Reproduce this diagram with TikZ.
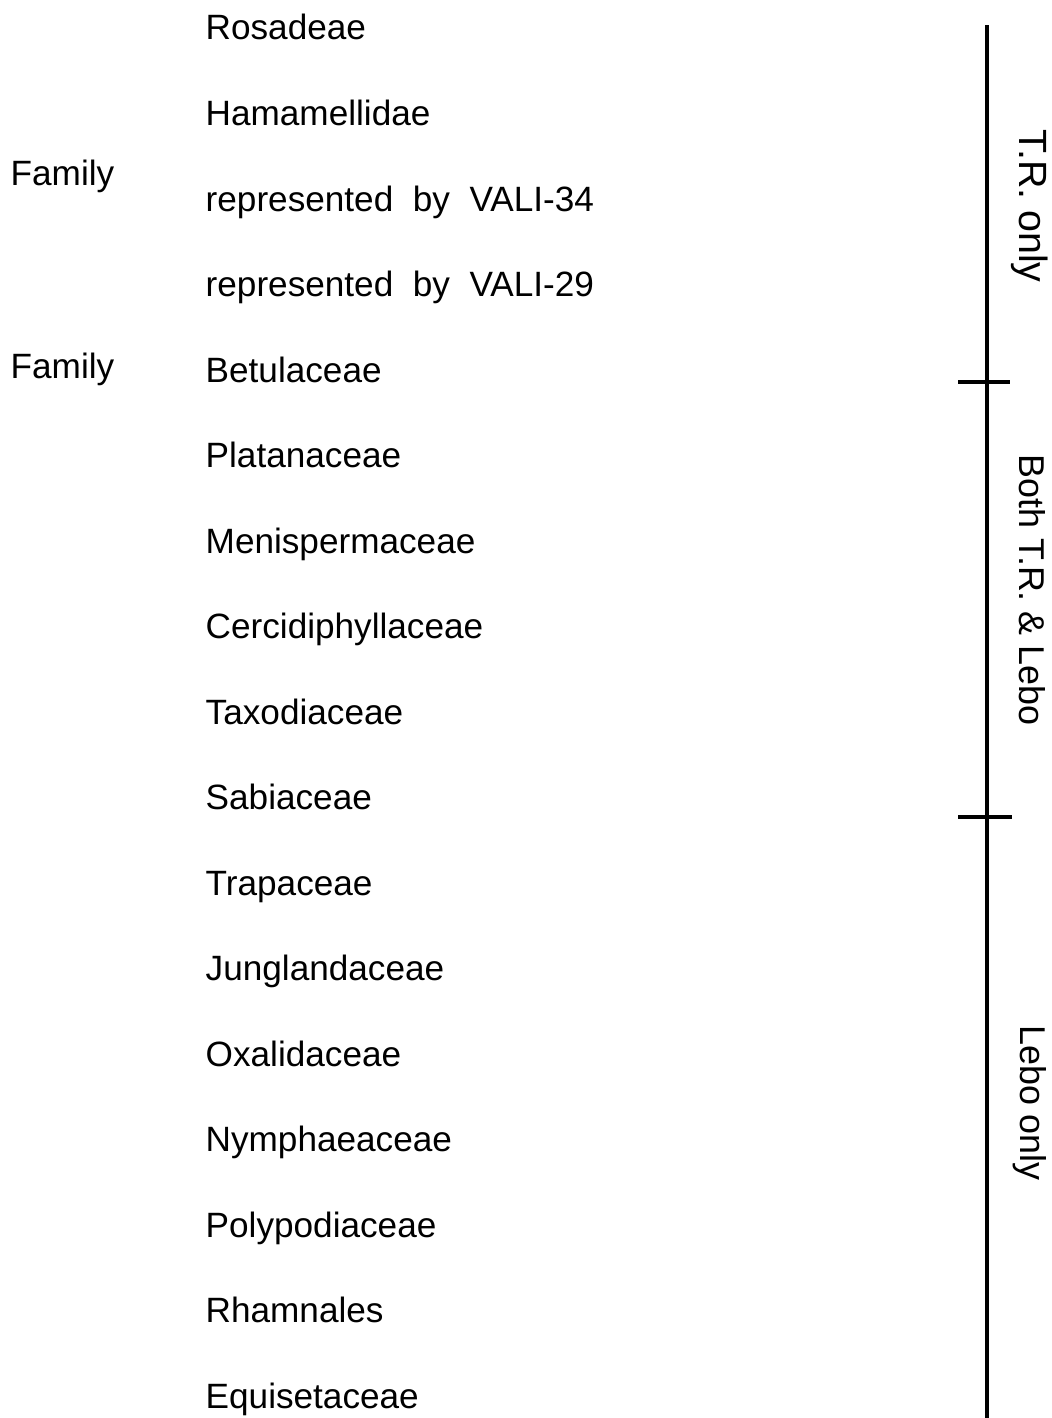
\documentclass[tikz,border=0pt]{standalone}
\usepackage{fontspec}
\setmainfont{Liberation Sans}
\usepackage{tikz}

\begin{document}
\begin{tikzpicture}[x=0.01cm, y=-0.01cm,
    entry/.style={anchor=base west, inner sep=0pt, font=\fontsize{10}{12}\selectfont},
    side/.style={rotate=-90, inner sep=0pt, font=\fontsize{10.2}{12}\selectfont},
    rule/.style={line width=0.9pt}]
    \useasboundingbox (0,0) rectangle (1052,1418);

    % Left column
    \node[entry] (fam1) at (10,185) {Family};
    \node[entry] (fam2) at (10,378) {Family};

    % Taxa
    \node[entry] (rosa) at (205,40) {Rosadeae};
    \node[entry] (hama) at (205,125.5) {Hamamellidae};
    \node[entry] (vali34) at (205,211) {represented\ \ by\ \ VALI-34};
    \node[entry] (vali29) at (205,296.5) {represented\ \ by\ \ VALI-29};
    \node[entry] (betu) at (205,382) {Betulaceae};
    \node[entry] (plat) at (205,467.5) {Platanaceae};
    \node[entry] (meni) at (205,553) {Menispermaceae};
    \node[entry] (cerc) at (205,638.5) {Cercidiphyllaceae};
    \node[entry] (taxo) at (205,724) {Taxodiaceae};
    \node[entry] (sabi) at (205,809.5) {Sabiaceae};
    \node[entry] (trap) at (205,895) {Trapaceae};
    \node[entry] (jung) at (205,980.5) {Junglandaceae};
    \node[entry] (oxal) at (205,1066) {Oxalidaceae};
    \node[entry] (nymp) at (205,1151.5) {Nymphaeaceae};
    \node[entry] (poly) at (205,1237) {Polypodiaceae};
    \node[entry] (rham) at (205,1322.5) {Rhamnales};
    \node[entry] (equi) at (205,1408) {Equisetaceae};

    % Range bar
    \coordinate (bartop) at (987,25);
    \coordinate (barbot) at (987,1418);
    \coordinate (tickAl) at (958,382);
    \coordinate (tickAr) at (1010,382);
    \coordinate (tickBl) at (958,817);
    \coordinate (tickBr) at (1012,817);
    \draw[rule] (bartop) -- (barbot);
    \draw[rule] (tickAl) -- (tickAr);
    \draw[rule] (tickBl) -- (tickBr);

    % Range labels
    \node[side, font=\fontsize{11.2}{13}\selectfont] (tronly) at (1030,206) {T.R. only};
    \node[side] (both) at (1032,590) {Both T.R. \& Lebo};
    \node[side] (lebo) at (1030,1103) {Lebo only};
\end{tikzpicture}
\end{document}
